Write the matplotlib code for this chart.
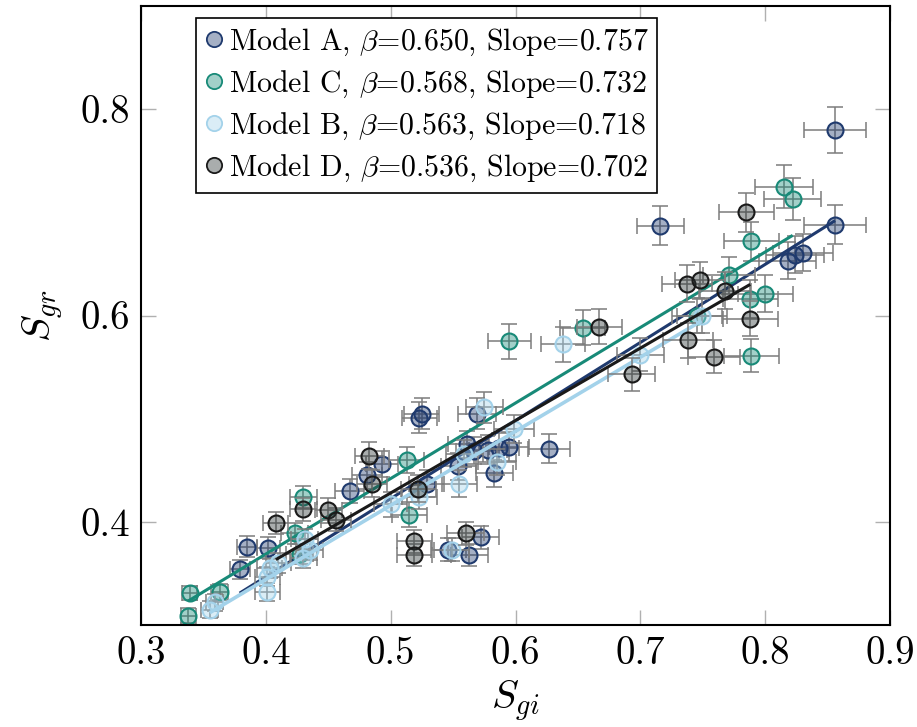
import numpy as np
import matplotlib
matplotlib.use('Agg')
import matplotlib.pyplot as plt
from matplotlib.lines import Line2D
from matplotlib.ticker import FormatStrFormatter

plt.rcParams.update({
    'font.family': 'serif',
    'font.serif': ['cmr10'],
    'mathtext.fontset': 'cm',
    'axes.formatter.use_mathtext': True,
    'font.size': 28,
})

# --- data (S_gi, S_gr with error bars) ---
a_x = [0.856, 0.856, 0.716, 0.818, 0.824, 0.830, 0.627, 0.595, 0.587, 0.578,
       0.567, 0.561, 0.554, 0.583, 0.569, 0.523, 0.525, 0.493, 0.481, 0.467,
       0.529, 0.572, 0.546, 0.563, 0.385, 0.402, 0.379]
a_y = [0.780, 0.688, 0.687, 0.653, 0.659, 0.661, 0.471, 0.473, 0.472, 0.470,
       0.469, 0.475, 0.454, 0.447, 0.505, 0.501, 0.505, 0.456, 0.445, 0.430,
       0.437, 0.385, 0.373, 0.368, 0.376, 0.375, 0.354]
a_xerr = [0.025, 0.025, 0.019, 0.023, 0.023, 0.024, 0.017, 0.016, 0.016, 0.015,
          0.015, 0.015, 0.014, 0.015, 0.015, 0.014, 0.014, 0.013, 0.012, 0.012,
          0.014, 0.015, 0.014, 0.015, 0.008, 0.009, 0.008]
a_yerr = [0.022, 0.019, 0.019, 0.018, 0.018, 0.018, 0.014, 0.014, 0.014, 0.014,
          0.013, 0.013, 0.013, 0.013, 0.015, 0.015, 0.015, 0.013, 0.013, 0.012,
          0.013, 0.011, 0.011, 0.011, 0.010, 0.010, 0.009]

c_x = [0.815, 0.822, 0.789, 0.771, 0.800, 0.788, 0.745, 0.789, 0.654, 0.595,
       0.513, 0.515, 0.430, 0.423, 0.427, 0.363, 0.339, 0.338]
c_y = [0.725, 0.713, 0.672, 0.639, 0.621, 0.616, 0.600, 0.561, 0.588, 0.575,
       0.460, 0.407, 0.424, 0.389, 0.369, 0.332, 0.331, 0.309]
c_xerr = [0.023, 0.023, 0.022, 0.021, 0.022, 0.022, 0.020, 0.022, 0.018, 0.017,
          0.014, 0.014, 0.011, 0.011, 0.011, 0.007, 0.006, 0.006]
c_yerr = [0.021, 0.020, 0.019, 0.018, 0.018, 0.018, 0.017, 0.016, 0.017, 0.017,
          0.013, 0.012, 0.011, 0.010, 0.010, 0.008, 0.007, 0.007]

b_x = [0.749, 0.700, 0.638, 0.599, 0.575, 0.585, 0.559, 0.555, 0.523, 0.500,
       0.549, 0.431, 0.435, 0.430, 0.410, 0.403, 0.401, 0.401, 0.359, 0.355]
b_y = [0.600, 0.562, 0.572, 0.490, 0.511, 0.458, 0.466, 0.437, 0.424, 0.417,
       0.373, 0.383, 0.373, 0.365, 0.360, 0.355, 0.347, 0.332, 0.322, 0.315]
b_xerr = [0.020, 0.019, 0.018, 0.016, 0.015, 0.015, 0.015, 0.014, 0.014, 0.013,
          0.014, 0.011, 0.011, 0.011, 0.010, 0.010, 0.010, 0.010, 0.007, 0.007]
b_yerr = [0.017, 0.016, 0.017, 0.014, 0.015, 0.013, 0.013, 0.013, 0.012, 0.012,
          0.011, 0.010, 0.010, 0.010, 0.010, 0.009, 0.009, 0.009, 0.008, 0.008]

d_x = [0.785, 0.737, 0.748, 0.768, 0.788, 0.738, 0.759, 0.667, 0.693, 0.483,
       0.485, 0.522, 0.450, 0.456, 0.430, 0.408, 0.560, 0.519, 0.519]
d_y = [0.700, 0.631, 0.634, 0.624, 0.597, 0.576, 0.560, 0.589, 0.543, 0.464,
       0.437, 0.432, 0.411, 0.402, 0.412, 0.399, 0.389, 0.381, 0.368]
d_xerr = [0.022, 0.020, 0.020, 0.021, 0.022, 0.020, 0.021, 0.018, 0.019, 0.012,
          0.012, 0.014, 0.011, 0.012, 0.011, 0.010, 0.015, 0.014, 0.014]
d_yerr = [0.019, 0.018, 0.018, 0.018, 0.017, 0.017, 0.016, 0.017, 0.016, 0.013,
          0.013, 0.013, 0.012, 0.011, 0.011, 0.011, 0.011, 0.011, 0.011]

model_names = ['Model A', 'Model C', 'Model B', 'Model D']
betas = [0.650, 0.568, 0.563, 0.536]
slopes = [0.757, 0.732, 0.718, 0.702]
intercepts = [0.044, 0.076, 0.057, 0.077]   # estimated from the drawn fit lines

edge_colors = ['#1f3a6e', '#188a78', '#a3d2ea', '#1a1a1a']
face_colors = ['#1f3a6e', '#188a78', '#a3d2ea', '#2a3434']

series = [(a_x, a_y, a_xerr, a_yerr), (c_x, c_y, c_xerr, c_yerr),
          (b_x, b_y, b_xerr, b_yerr), (d_x, d_y, d_xerr, d_yerr)]

fig = plt.figure(figsize=(9.17, 7.27), dpi=100)
ax = fig.add_axes([0.1538, 0.1403, 0.8168, 0.8514])

handles = []
for k, (x, y, xe, ye) in enumerate(series):
    x = np.asarray(x)
    y = np.asarray(y)
    ax.errorbar(x, y, xerr=xe, yerr=ye, fmt='none', ecolor='#7d7d7d',
                elinewidth=1.3, capsize=6, capthick=1.3, alpha=0.85, zorder=2)
    ax.plot(x, y, 'o', ms=11.5, mfc=matplotlib.colors.to_rgba(face_colors[k], 0.4),
            mec=edge_colors[k], mew=1.5, zorder=2)
    xl = np.array([x.min(), x.max()])
    ax.plot(xl, intercepts[k] + slopes[k] * xl, color=edge_colors[k],
            lw=2.6 if k == 2 else 2.2, zorder=2, solid_capstyle='butt')
    handles.append(Line2D([], [], ls='none', marker='o', ms=11,
                          mfc=matplotlib.colors.to_rgba(face_colors[k], 0.4),
                          mec=edge_colors[k], mew=1.3))

labels = [rf'{n}, $\beta$={b:.3f}, Slope={s:.3f}'
          for n, b, s in zip(model_names, betas, slopes)]
leg = ax.legend(handles, labels, loc='upper left', bbox_to_anchor=(0.073, 0.981),
                borderaxespad=0, fontsize=21.5, frameon=True, fancybox=False,
                framealpha=1, edgecolor='black', handlelength=0.6,
                handletextpad=0.2, labelspacing=0.36, borderpad=0.3)
leg.get_frame().set_linewidth(1.2)

ax.set_xlim(0.3, 0.9)
ax.set_ylim(0.3, 0.9)
ax.set_xticks([0.3, 0.4, 0.5, 0.6, 0.7, 0.8, 0.9])
ax.set_yticks([0.4, 0.6, 0.8])
ax.xaxis.set_major_formatter(FormatStrFormatter('%.1f'))
ax.yaxis.set_major_formatter(FormatStrFormatter('%.1f'))
ax.tick_params(direction='in', length=11, width=1.0, color='#b0b0b0',
               top=True, right=True, labelsize=28, pad=8)
for sp in ax.spines.values():
    sp.set_linewidth(1.5)

ax.set_xlabel(r'$S_{gi}$', fontsize=29, labelpad=5)
ax.set_ylabel(r'$S_{gr}$', fontsize=29, labelpad=10)

fig.savefig('out.png', dpi=100, facecolor='white')
